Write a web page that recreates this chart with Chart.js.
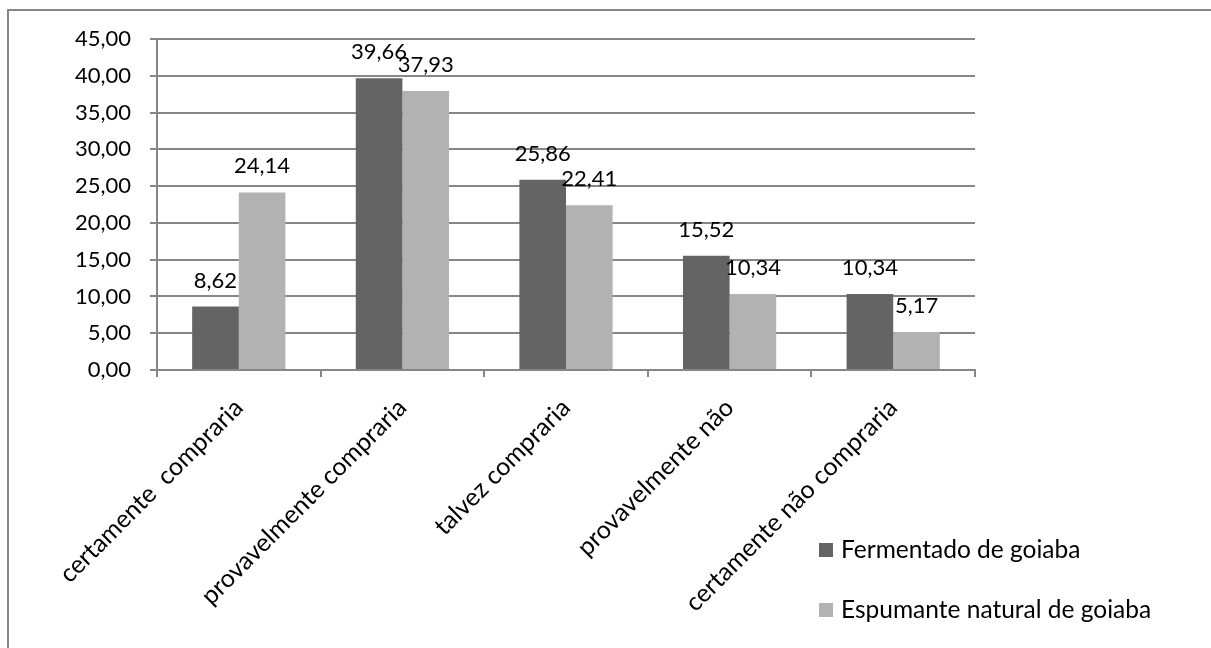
<!DOCTYPE html>
<html>
<head>
<meta charset="utf-8">
<style>
  html, body { margin: 0; padding: 0; background: #fff; }
  #wrap { width: 1211px; height: 648px; position: relative; }
</style>
<script src="https://cdn.jsdelivr.net/npm/chart.js@4/dist/chart.umd.min.js"></script>
</head>
<body>
<div id="wrap"><canvas id="c" width="1211" height="648"></canvas></div>
<script>
// Purchase intention (%) for two guava beverages
const categories = [
  'certamente  compraria',
  'provavelmente compraria',
  'talvez compraria',
  'provavelmente não',
  'certamente não compraria'
];
const fermentado = [8.62, 39.66, 25.86, 15.52, 10.34];
const espumante = [24.14, 37.93, 22.41, 10.34, 5.17];
const seriesNames = ['Fermentado de goiaba', 'Espumante natural de goiaba'];

const FONT = 'Lato, "Open Sans", sans-serif';
const GRID = '#868686';
const fmt = v => Number(v).toFixed(2).replace('.', ',');

// Outer frame around the chart
const framePlugin = {
  id: 'frame',
  beforeDraw(chart) {
    const ctx = chart.ctx;
    ctx.save();
    ctx.fillStyle = '#fff';
    ctx.fillRect(0, 0, chart.width, chart.height);
    ctx.strokeStyle = GRID;
    ctx.lineWidth = 2;
    ctx.strokeRect(8, 10, chart.width + 10, chart.height + 10);
    ctx.restore();
  }
};

// Value labels above each bar
const valueLabels = {
  id: 'valueLabels',
  afterDatasetsDraw(chart) {
    const ctx = chart.ctx;
    ctx.save();
    ctx.font = '22px ' + FONT;
    ctx.fillStyle = '#000';
    ctx.textAlign = 'center';
    ctx.textBaseline = 'alphabetic';
    chart.data.datasets.forEach((ds, i) => {
      chart.getDatasetMeta(i).data.forEach((bar, j) => {
        ctx.fillText(fmt(ds.data[j]), bar.x, bar.y - 19);
      });
    });
    ctx.restore();
  }
};

// Legend in the lower right corner
const cornerLegend = {
  id: 'cornerLegend',
  afterDraw(chart) {
    const ctx = chart.ctx;
    ctx.save();
    ctx.font = '24.5px ' + FONT;
    ctx.textBaseline = 'middle';
    ctx.textAlign = 'left';
    const x0 = 819, rows = [550, 610];
    chart.data.datasets.forEach((ds, i) => {
      const y = rows[i];
      ctx.fillStyle = ds.backgroundColor;
      ctx.fillRect(x0, y - 7, 14, 14);
      ctx.fillStyle = '#000';
      ctx.fillText(ds.label, x0 + 22, y);
    });
    ctx.restore();
  }
};

new Chart(document.getElementById('c'), {
  type: 'bar',
  data: {
    labels: categories,
    datasets: [
      { label: seriesNames[0], data: fermentado, backgroundColor: '#646464',
        categoryPercentage: 0.57, barPercentage: 1.0 },
      { label: seriesNames[1], data: espumante, backgroundColor: '#b2b2b2',
        categoryPercentage: 0.57, barPercentage: 1.0 }
    ]
  },
  options: {
    responsive: false,
    animation: false,
    layout: { padding: { top: 39, right: 236, bottom: 0, left: 0 } },
    plugins: { legend: { display: false }, tooltip: { enabled: false } },
    scales: {
      x: {
        afterFit(scale) { scale.height = 278; },
        grid: { drawOnChartArea: false, drawTicks: true, tickLength: 7, color: GRID, lineWidth: 2, offset: true },
        border: { color: GRID, width: 2 },
        ticks: { minRotation: 45, maxRotation: 45, color: '#000', font: { family: FONT, size: 25 }, padding: 16 }
      },
      y: {
        min: 0, max: 45,
        afterFit(scale) { scale.width = 157; },
        grid: { color: GRID, lineWidth: 2, tickLength: 7 },
        border: { color: GRID, width: 2 },
        ticks: { stepSize: 5, color: '#000', font: { family: FONT, size: 22 }, padding: 19,
                 callback: v => fmt(v) }
      }
    }
  },
  plugins: [framePlugin, valueLabels, cornerLegend]
});
</script>
</body>
</html>
